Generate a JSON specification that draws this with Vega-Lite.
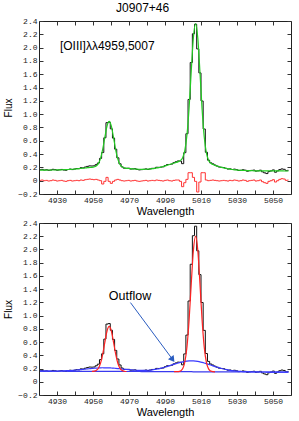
{
  "$schema": "https://vega.github.io/schema/vega-lite/v6.json",
  "padding": {"left": 3, "right": 9, "top": 1, "bottom": 3},
  "title": {"text": "J0907+46", "font": "Liberation Sans", "fontSize": 12, "fontWeight": "normal", "color": "#000", "offset": 2, "anchor": "middle", "dx": -5},
  "config": {
    "view": {"stroke": "#222", "strokeWidth": 1},
    "axis": {"domain": false, "grid": false, "tickSize": -4, "tickColor": "#333", "tickWidth": 1, "labelFont": "Liberation Mono", "labelFontSize": 8, "labelColor": "#222", "labelPadding": 6, "titleFont": "Liberation Sans", "titleFontWeight": "normal", "titleColor": "#000", "minExtent": 0}
  },
  "spacing": 1,
  "datasets": {
    "spec": [
      {"wl":4920.6,"flux":0.165,"model":0.160,"resid":0.005,"broad":0.160,"cont":0.160},
      {"wl":4921.8,"flux":0.170,"model":0.160,"resid":0.01,"broad":0.160,"cont":0.160},
      {"wl":4923.0,"flux":0.160,"model":0.160,"resid":0,"broad":0.160,"cont":0.160},
      {"wl":4924.2,"flux":0.165,"model":0.160,"resid":0.005,"broad":0.160,"cont":0.160},
      {"wl":4925.4,"flux":0.156,"model":0.161,"resid":-0.005,"broad":0.161,"cont":0.160},
      {"wl":4926.6,"flux":0.160,"model":0.160,"resid":0,"broad":0.160,"cont":0.159},
      {"wl":4927.8,"flux":0.171,"model":0.161,"resid":0.01,"broad":0.161,"cont":0.159},
      {"wl":4929.0,"flux":0.166,"model":0.161,"resid":0.005,"broad":0.161,"cont":0.159},
      {"wl":4930.2,"flux":0.157,"model":0.162,"resid":-0.005,"broad":0.162,"cont":0.159},
      {"wl":4931.4,"flux":0.163,"model":0.163,"resid":0,"broad":0.163,"cont":0.159},
      {"wl":4932.6,"flux":0.169,"model":0.164,"resid":0.005,"broad":0.164,"cont":0.159},
      {"wl":4933.8,"flux":0.160,"model":0.165,"resid":-0.005,"broad":0.165,"cont":0.159},
      {"wl":4935.0,"flux":0.157,"model":0.167,"resid":-0.01,"broad":0.167,"cont":0.159},
      {"wl":4936.2,"flux":0.168,"model":0.168,"resid":0,"broad":0.168,"cont":0.158},
      {"wl":4937.4,"flux":0.175,"model":0.170,"resid":0.005,"broad":0.170,"cont":0.158},
      {"wl":4938.6,"flux":0.167,"model":0.172,"resid":-0.005,"broad":0.172,"cont":0.158},
      {"wl":4939.8,"flux":0.175,"model":0.175,"resid":0,"broad":0.175,"cont":0.158},
      {"wl":4941.0,"flux":0.183,"model":0.178,"resid":0.005,"broad":0.178,"cont":0.158},
      {"wl":4942.2,"flux":0.181,"model":0.181,"resid":0,"broad":0.181,"cont":0.158},
      {"wl":4943.4,"flux":0.195,"model":0.185,"resid":0.01,"broad":0.185,"cont":0.158},
      {"wl":4944.6,"flux":0.193,"model":0.188,"resid":0.005,"broad":0.188,"cont":0.158},
      {"wl":4945.8,"flux":0.206,"model":0.191,"resid":0.015,"broad":0.191,"cont":0.157},
      {"wl":4947.0,"flux":0.215,"model":0.195,"resid":0.02,"broad":0.195,"cont":0.157},
      {"wl":4948.2,"flux":0.223,"model":0.198,"resid":0.025,"broad":0.198,"cont":0.157},
      {"wl":4949.4,"flux":0.221,"model":0.201,"resid":0.02,"broad":0.201,"cont":0.157},
      {"wl":4950.6,"flux":0.223,"model":0.208,"resid":0.015,"broad":0.204,"cont":0.157},
      {"wl":4951.8,"flux":0.242,"model":0.222,"resid":0.02,"broad":0.207,"cont":0.157},
      {"wl":4953.0,"flux":0.266,"model":0.256,"resid":0.01,"broad":0.209,"cont":0.157},
      {"wl":4954.2,"flux":0.335,"model":0.335,"resid":0,"broad":0.211,"cont":0.157},
      {"wl":4955.4,"flux":0.423,"model":0.473,"resid":-0.05,"broad":0.212,"cont":0.157},
      {"wl":4956.6,"flux":0.645,"model":0.655,"resid":-0.01,"broad":0.211,"cont":0.156},
      {"wl":4957.8,"flux":0.872,"model":0.822,"resid":0.05,"broad":0.211,"cont":0.156},
      {"wl":4959.0,"flux":0.880,"model":0.890,"resid":-0.01,"broad":0.210,"cont":0.156},
      {"wl":4960.2,"flux":0.779,"model":0.819,"resid":-0.04,"broad":0.208,"cont":0.156},
      {"wl":4961.4,"flux":0.640,"model":0.650,"resid":-0.01,"broad":0.206,"cont":0.156},
      {"wl":4962.6,"flux":0.474,"model":0.464,"resid":0.01,"broad":0.203,"cont":0.156},
      {"wl":4963.8,"flux":0.344,"model":0.324,"resid":0.02,"broad":0.200,"cont":0.156},
      {"wl":4965.0,"flux":0.254,"model":0.244,"resid":0.01,"broad":0.197,"cont":0.156},
      {"wl":4966.2,"flux":0.208,"model":0.208,"resid":0,"broad":0.193,"cont":0.155},
      {"wl":4967.4,"flux":0.188,"model":0.193,"resid":-0.005,"broad":0.189,"cont":0.155},
      {"wl":4968.6,"flux":0.186,"model":0.186,"resid":0,"broad":0.186,"cont":0.155},
      {"wl":4969.8,"flux":0.188,"model":0.183,"resid":0.005,"broad":0.183,"cont":0.155},
      {"wl":4971.0,"flux":0.175,"model":0.180,"resid":-0.005,"broad":0.180,"cont":0.155},
      {"wl":4972.2,"flux":0.177,"model":0.177,"resid":0,"broad":0.177,"cont":0.155},
      {"wl":4973.4,"flux":0.180,"model":0.175,"resid":0.005,"broad":0.175,"cont":0.155},
      {"wl":4974.6,"flux":0.168,"model":0.173,"resid":-0.005,"broad":0.173,"cont":0.155},
      {"wl":4975.8,"flux":0.162,"model":0.172,"resid":-0.01,"broad":0.172,"cont":0.155},
      {"wl":4977.0,"flux":0.166,"model":0.171,"resid":-0.005,"broad":0.171,"cont":0.154},
      {"wl":4978.2,"flux":0.171,"model":0.171,"resid":0,"broad":0.171,"cont":0.154},
      {"wl":4979.4,"flux":0.177,"model":0.172,"resid":0.005,"broad":0.172,"cont":0.154},
      {"wl":4980.6,"flux":0.169,"model":0.174,"resid":-0.005,"broad":0.174,"cont":0.154},
      {"wl":4981.8,"flux":0.177,"model":0.177,"resid":0,"broad":0.177,"cont":0.154},
      {"wl":4983.0,"flux":0.186,"model":0.181,"resid":0.005,"broad":0.181,"cont":0.154},
      {"wl":4984.2,"flux":0.186,"model":0.186,"resid":0,"broad":0.186,"cont":0.154},
      {"wl":4985.4,"flux":0.202,"model":0.192,"resid":0.01,"broad":0.192,"cont":0.154},
      {"wl":4986.6,"flux":0.201,"model":0.196,"resid":0.005,"broad":0.196,"cont":0.153},
      {"wl":4987.8,"flux":0.204,"model":0.204,"resid":0,"broad":0.204,"cont":0.153},
      {"wl":4989.0,"flux":0.208,"model":0.213,"resid":-0.005,"broad":0.213,"cont":0.153},
      {"wl":4990.2,"flux":0.228,"model":0.223,"resid":0.005,"broad":0.223,"cont":0.153},
      {"wl":4991.4,"flux":0.243,"model":0.233,"resid":0.01,"broad":0.233,"cont":0.153},
      {"wl":4992.6,"flux":0.244,"model":0.244,"resid":0,"broad":0.244,"cont":0.153},
      {"wl":4993.8,"flux":0.250,"model":0.255,"resid":-0.005,"broad":0.255,"cont":0.153},
      {"wl":4995.0,"flux":0.271,"model":0.266,"resid":0.005,"broad":0.266,"cont":0.153},
      {"wl":4996.2,"flux":0.285,"model":0.275,"resid":0.01,"broad":0.275,"cont":0.152},
      {"wl":4997.4,"flux":0.297,"model":0.287,"resid":0.01,"broad":0.285,"cont":0.152},
      {"wl":4998.6,"flux":0.295,"model":0.305,"resid":-0.01,"broad":0.294,"cont":0.152},
      {"wl":4999.8,"flux":0.256,"model":0.346,"resid":-0.09,"broad":0.302,"cont":0.152},
      {"wl":5001.0,"flux":0.421,"model":0.451,"resid":-0.03,"broad":0.308,"cont":0.152},
      {"wl":5002.2,"flux":0.706,"model":0.686,"resid":0.02,"broad":0.313,"cont":0.152},
      {"wl":5003.4,"flux":1.221,"model":1.101,"resid":0.12,"broad":0.316,"cont":0.152},
      {"wl":5004.6,"flux":1.776,"model":1.656,"resid":0.12,"broad":0.317,"cont":0.152},
      {"wl":5005.8,"flux":2.208,"model":2.158,"resid":0.05,"broad":0.315,"cont":0.151},
      {"wl":5007.0,"flux":2.352,"model":2.362,"resid":-0.01,"broad":0.312,"cont":0.151},
      {"wl":5008.2,"flux":1.980,"model":2.150,"resid":-0.17,"broad":0.307,"cont":0.151},
      {"wl":5009.4,"flux":1.620,"model":1.640,"resid":-0.02,"broad":0.301,"cont":0.151},
      {"wl":5010.6,"flux":1.198,"model":1.078,"resid":0.12,"broad":0.293,"cont":0.151},
      {"wl":5011.8,"flux":0.777,"model":0.657,"resid":0.12,"broad":0.284,"cont":0.151},
      {"wl":5013.0,"flux":0.427,"model":0.417,"resid":0.01,"broad":0.274,"cont":0.151},
      {"wl":5014.2,"flux":0.308,"model":0.308,"resid":0,"broad":0.264,"cont":0.151},
      {"wl":5015.4,"flux":0.269,"model":0.264,"resid":0.005,"broad":0.253,"cont":0.151},
      {"wl":5016.6,"flux":0.253,"model":0.243,"resid":0.01,"broad":0.241,"cont":0.150},
      {"wl":5017.8,"flux":0.235,"model":0.230,"resid":0.005,"broad":0.230,"cont":0.150},
      {"wl":5019.0,"flux":0.220,"model":0.220,"resid":0,"broad":0.220,"cont":0.150},
      {"wl":5020.2,"flux":0.205,"model":0.210,"resid":-0.005,"broad":0.210,"cont":0.150},
      {"wl":5021.4,"flux":0.201,"model":0.201,"resid":0,"broad":0.201,"cont":0.150},
      {"wl":5022.6,"flux":0.198,"model":0.193,"resid":0.005,"broad":0.193,"cont":0.150},
      {"wl":5023.8,"flux":0.186,"model":0.186,"resid":0,"broad":0.186,"cont":0.150},
      {"wl":5025.0,"flux":0.175,"model":0.180,"resid":-0.005,"broad":0.180,"cont":0.150},
      {"wl":5026.2,"flux":0.178,"model":0.173,"resid":0.005,"broad":0.173,"cont":0.149},
      {"wl":5027.4,"flux":0.168,"model":0.168,"resid":0,"broad":0.168,"cont":0.149},
      {"wl":5028.6,"flux":0.174,"model":0.164,"resid":0.01,"broad":0.164,"cont":0.149},
      {"wl":5029.8,"flux":0.166,"model":0.161,"resid":0.005,"broad":0.161,"cont":0.149},
      {"wl":5031.0,"flux":0.153,"model":0.158,"resid":-0.005,"broad":0.158,"cont":0.149},
      {"wl":5032.2,"flux":0.156,"model":0.156,"resid":0,"broad":0.156,"cont":0.149},
      {"wl":5033.4,"flux":0.164,"model":0.154,"resid":0.01,"broad":0.154,"cont":0.149},
      {"wl":5034.6,"flux":0.158,"model":0.153,"resid":0.005,"broad":0.153,"cont":0.149},
      {"wl":5035.8,"flux":0.142,"model":0.152,"resid":-0.01,"broad":0.152,"cont":0.149},
      {"wl":5037.0,"flux":0.150,"model":0.150,"resid":0,"broad":0.150,"cont":0.148},
      {"wl":5038.2,"flux":0.155,"model":0.150,"resid":0.005,"broad":0.150,"cont":0.148},
      {"wl":5039.4,"flux":0.159,"model":0.149,"resid":0.01,"broad":0.149,"cont":0.148},
      {"wl":5040.6,"flux":0.144,"model":0.149,"resid":-0.005,"broad":0.149,"cont":0.148},
      {"wl":5041.8,"flux":0.148,"model":0.148,"resid":0,"broad":0.148,"cont":0.148},
      {"wl":5043.0,"flux":0.158,"model":0.148,"resid":0.01,"broad":0.148,"cont":0.148},
      {"wl":5044.2,"flux":0.133,"model":0.148,"resid":-0.015,"broad":0.148,"cont":0.148},
      {"wl":5045.4,"flux":0.118,"model":0.148,"resid":-0.03,"broad":0.148,"cont":0.148},
      {"wl":5046.6,"flux":0.107,"model":0.147,"resid":-0.04,"broad":0.147,"cont":0.147},
      {"wl":5047.8,"flux":0.137,"model":0.147,"resid":-0.01,"broad":0.147,"cont":0.147},
      {"wl":5049.0,"flux":0.147,"model":0.147,"resid":0,"broad":0.147,"cont":0.147},
      {"wl":5050.2,"flux":0.162,"model":0.147,"resid":0.015,"broad":0.147,"cont":0.147},
      {"wl":5051.4,"flux":0.127,"model":0.147,"resid":-0.02,"broad":0.147,"cont":0.147},
      {"wl":5052.6,"flux":0.147,"model":0.147,"resid":0,"broad":0.147,"cont":0.147},
      {"wl":5053.8,"flux":0.167,"model":0.147,"resid":0.02,"broad":0.147,"cont":0.147},
      {"wl":5055.0,"flux":0.177,"model":0.147,"resid":0.03,"broad":0.147,"cont":0.147},
      {"wl":5056.2,"flux":0.171,"model":0.146,"resid":0.025,"broad":0.146,"cont":0.146},
      {"wl":5057.4,"flux":0.151,"model":0.146,"resid":0.005,"broad":0.146,"cont":0.146},
      {"wl":5058.6,"flux":0.156,"model":0.146,"resid":0.01,"broad":0.146,"cont":0.146}
    ],
    "narrow": [
      {"wl":4949.4,"narrow":0.157,"line":"4959"},
      {"wl":4950.6,"narrow":0.161,"line":"4959"},
      {"wl":4951.8,"narrow":0.172,"line":"4959"},
      {"wl":4953.0,"narrow":0.204,"line":"4959"},
      {"wl":4954.2,"narrow":0.281,"line":"4959"},
      {"wl":4955.4,"narrow":0.418,"line":"4959"},
      {"wl":4956.6,"narrow":0.600,"line":"4959"},
      {"wl":4957.8,"narrow":0.767,"line":"4959"},
      {"wl":4959.0,"narrow":0.836,"line":"4959"},
      {"wl":4960.2,"narrow":0.767,"line":"4959"},
      {"wl":4961.4,"narrow":0.600,"line":"4959"},
      {"wl":4962.6,"narrow":0.417,"line":"4959"},
      {"wl":4963.8,"narrow":0.280,"line":"4959"},
      {"wl":4965.0,"narrow":0.203,"line":"4959"},
      {"wl":4966.2,"narrow":0.170,"line":"4959"},
      {"wl":4967.4,"narrow":0.159,"line":"4959"},
      {"wl":4968.6,"narrow":0.155,"line":"4959"},
      {"wl":4995.0,"narrow":0.153,"line":"5007"},
      {"wl":4996.2,"narrow":0.152,"line":"5007"},
      {"wl":4997.4,"narrow":0.154,"line":"5007"},
      {"wl":4998.6,"narrow":0.163,"line":"5007"},
      {"wl":4999.8,"narrow":0.196,"line":"5007"},
      {"wl":5001.0,"narrow":0.295,"line":"5007"},
      {"wl":5002.2,"narrow":0.525,"line":"5007"},
      {"wl":5003.4,"narrow":0.937,"line":"5007"},
      {"wl":5004.6,"narrow":1.491,"line":"5007"},
      {"wl":5005.8,"narrow":1.994,"line":"5007"},
      {"wl":5007.0,"narrow":2.201,"line":"5007"},
      {"wl":5008.2,"narrow":1.994,"line":"5007"},
      {"wl":5009.4,"narrow":1.490,"line":"5007"},
      {"wl":5010.6,"narrow":0.936,"line":"5007"},
      {"wl":5011.8,"narrow":0.524,"line":"5007"},
      {"wl":5013.0,"narrow":0.294,"line":"5007"},
      {"wl":5014.2,"narrow":0.195,"line":"5007"},
      {"wl":5015.4,"narrow":0.162,"line":"5007"},
      {"wl":5016.6,"narrow":0.152,"line":"5007"},
      {"wl":5017.8,"narrow":0.150,"line":"5007"}
    ],
    "label1": [{"wl":4931.6,"v":2.03,"label":"[OIII]λλ4959,5007"}],
    "label2": [{"wl":4958.8,"v":1.29,"label":"Outflow"}],
    "arrow": [{"x":4970.8,"y":1.197,"x2":4993.9,"y2":0.349}]
  },
  "vconcat": [
    {
      "width": 252,
      "height": 173,
      "resolve": {"axis": {"x": "independent", "y": "independent"}},
      "layer": [
        {
          "data": {"name": "spec"},
          "mark": {"type": "line", "interpolate": "step", "color": "#111", "strokeWidth": 1},
          "encoding": {
            "x": {"field": "wl", "type": "quantitative", "scale": {"domain": [4920, 5060], "nice": false, "zero": false},
                  "axis": {"orient": "bottom", "values": [4930,4940,4950,4960,4970,4980,4990,5000,5010,5020,5030,5040,5050], "format": "d", "labelExpr": "(datum.value - 4930) % 20 == 0 ? datum.label : ''", "title": "Wavelength", "titleFontSize": 11, "titlePadding": 1}},
            "y": {"field": "flux", "type": "quantitative", "scale": {"domain": [-0.2, 2.4], "nice": false, "zero": false},
                  "axis": {"orient": "left", "values": [-0.2,0,0.2,0.4,0.6,0.8,1,1.2,1.4,1.6,1.8,2,2.2,2.4], "labelExpr": "datum.value == 0 ? '0' : format(datum.value, '.1f')", "title": "Flux", "titleFontSize": 10, "titlePadding": 4}}
          }
        },
        {
          "data": {"name": "spec"},
          "mark": {"type": "line", "interpolate": "monotone", "color": "#22cc22", "strokeWidth": 1.2},
          "encoding": {
            "x": {"field": "wl", "type": "quantitative", "axis": {"orient": "top", "values": [4930,4940,4950,4960,4970,4980,4990,5000,5010,5020,5030,5040,5050], "labels": false, "title": null}},
            "y": {"field": "model", "type": "quantitative", "axis": {"orient": "right", "values": [-0.2,0,0.2,0.4,0.6,0.8,1,1.2,1.4,1.6,1.8,2,2.2,2.4], "labels": false, "title": null}}
          }
        },
        {
          "data": {"name": "spec"},
          "mark": {"type": "line", "interpolate": "step", "color": "#ff3333", "strokeWidth": 1},
          "encoding": {
            "x": {"field": "wl", "type": "quantitative", "axis": null},
            "y": {"field": "resid", "type": "quantitative", "axis": null}
          }
        },
        {
          "data": {"name": "label1"},
          "mark": {"type": "text", "align": "left", "baseline": "middle", "font": "Liberation Sans", "fontSize": 12, "color": "#000"},
          "encoding": {
            "x": {"field": "wl", "type": "quantitative", "axis": null},
            "y": {"field": "v", "type": "quantitative", "axis": null},
            "text": {"field": "label"}
          }
        }
      ]
    },
    {
      "width": 252,
      "height": 172,
      "resolve": {"axis": {"x": "independent", "y": "independent"}},
      "layer": [
        {
          "data": {"name": "spec"},
          "mark": {"type": "line", "interpolate": "step", "color": "#111", "strokeWidth": 1},
          "encoding": {
            "x": {"field": "wl", "type": "quantitative", "scale": {"domain": [4920, 5060], "nice": false, "zero": false},
                  "axis": {"orient": "bottom", "values": [4930,4940,4950,4960,4970,4980,4990,5000,5010,5020,5030,5040,5050], "format": "d", "labelExpr": "(datum.value - 4930) % 20 == 0 ? datum.label : ''", "title": "Wavelength", "titleFontSize": 11, "titlePadding": 1}},
            "y": {"field": "flux", "type": "quantitative", "scale": {"domain": [-0.2, 2.4], "nice": false, "zero": false},
                  "axis": {"orient": "left", "values": [-0.2,0,0.2,0.4,0.6,0.8,1,1.2,1.4,1.6,1.8,2,2.2,2.4], "labelExpr": "datum.value == 0 ? '0' : format(datum.value, '.1f')", "title": "Flux", "titleFontSize": 10, "titlePadding": 4}}
          }
        },
        {
          "data": {"name": "spec"},
          "mark": {"type": "line", "color": "#3a3aee", "strokeWidth": 1.2},
          "encoding": {
            "x": {"field": "wl", "type": "quantitative", "axis": {"orient": "top", "values": [4930,4940,4950,4960,4970,4980,4990,5000,5010,5020,5030,5040,5050], "labels": false, "title": null}},
            "y": {"field": "cont", "type": "quantitative", "axis": {"orient": "right", "values": [-0.2,0,0.2,0.4,0.6,0.8,1,1.2,1.4,1.6,1.8,2,2.2,2.4], "labels": false, "title": null}}
          }
        },
        {
          "data": {"name": "spec"},
          "mark": {"type": "line", "interpolate": "monotone", "color": "#3a3aff", "strokeWidth": 1.2},
          "encoding": {
            "x": {"field": "wl", "type": "quantitative", "axis": null},
            "y": {"field": "broad", "type": "quantitative", "axis": null}
          }
        },
        {
          "data": {"name": "narrow"},
          "mark": {"type": "line", "interpolate": "monotone", "color": "#ff2222", "strokeWidth": 1.2},
          "encoding": {
            "x": {"field": "wl", "type": "quantitative", "axis": null},
            "y": {"field": "narrow", "type": "quantitative", "axis": null},
            "detail": {"field": "line"}
          }
        },
        {
          "data": {"name": "arrow"},
          "mark": {"type": "rule", "color": "#2a5cc0", "strokeWidth": 1},
          "encoding": {
            "x": {"field": "x", "type": "quantitative", "axis": null},
            "y": {"field": "y", "type": "quantitative", "axis": null},
            "x2": {"field": "x2"},
            "y2": {"field": "y2"}
          }
        },
        {
          "data": {"name": "arrow"},
          "mark": {"type": "point", "shape": "triangle", "filled": true, "size": 50, "angle": 143.5, "color": "#2a5cc0", "opacity": 1},
          "encoding": {
            "x": {"field": "x2", "type": "quantitative", "axis": null},
            "y": {"field": "y2", "type": "quantitative", "axis": null}
          }
        },
        {
          "data": {"name": "label2"},
          "mark": {"type": "text", "align": "left", "baseline": "middle", "font": "Liberation Sans", "fontSize": 12.5, "color": "#000"},
          "encoding": {
            "x": {"field": "wl", "type": "quantitative", "axis": null},
            "y": {"field": "v", "type": "quantitative", "axis": null},
            "text": {"field": "label"}
          }
        }
      ]
    }
  ]
}
